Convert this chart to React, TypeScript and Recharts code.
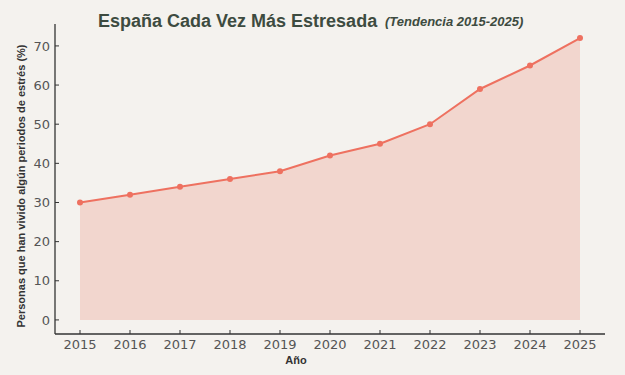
import { ComposedChart, Area, Line, XAxis, YAxis } from "recharts";

const years = [2015, 2016, 2017, 2018, 2019, 2020, 2021, 2022, 2023, 2024, 2025];
const stressPct = [30, 32, 34, 36, 38, 42, 45, 50, 59, 65, 72];
const yTicks = [0, 10, 20, 30, 40, 50, 60, 70];

const data = years.map((year, i) => ({ year, value: stressPct[i] }));

const BG = "#f4f2ee";
const ACCENT = "#ee7160";
const tickStyle = { fill: "#555", fontSize: 13, fontFamily: "DejaVu Sans" };

const YTitle = (props: any) => {
  const vb = props.viewBox || { x: 0, y: 24, height: 310 };
  const cx = vb.x + 21;
  const cy = vb.y + vb.height / 2 + 7;
  return (
    <text
      x={cx}
      y={cy}
      transform={`rotate(-90, ${cx}, ${cy})`}
      textAnchor="middle"
      dominantBaseline="central"
      fontFamily="Liberation Sans"
      fontWeight="bold"
      fontSize={11}
      fill="#333"
    >
      Personas que han vivido algún periodos de estrés (%)
    </text>
  );
};

const XTitle = (props: any) => {
  const vb = props.viewBox || { x: 55, y: 334, width: 550 };
  return (
    <text
      x={296}
      y={vb.y + 26}
      textAnchor="middle"
      dominantBaseline="central"
      fontFamily="Liberation Sans"
      fontWeight="bold"
      fontSize={11}
      fill="#333"
    >
      Año
    </text>
  );
};

export default function App() {
  return (
    <div style={{ position: "absolute", left: 0, top: 0, width: 625, height: 375, background: BG }}>
      <svg width={625} height={40} style={{ position: "absolute", left: 0, top: 0 }}>
        <text x={98} y={27} fontFamily="Liberation Sans" fontWeight="bold" fontSize={18} fill="#3d4b40">
          España Cada Vez Más Estresada
        </text>
        <text
          x={385}
          y={26}
          fontFamily="Liberation Sans"
          fontWeight="bold"
          fontStyle="italic"
          fontSize={13}
          fill="#3d4b40"
        >
          (Tendencia 2015-2025)
        </text>
      </svg>
      <ComposedChart width={625} height={375} data={data} margin={{ top: 24, right: 20, bottom: 11, left: 0 }}>
        <XAxis
          dataKey="year"
          type="number"
          domain={[2014.5, 2025.5]}
          ticks={years}
          tick={tickStyle}
          tickSize={-4}
          tickMargin={10}
          height={30}
          axisLine={{ stroke: "#333", strokeWidth: 1.3 }}
          tickLine={{ stroke: "#333" }}
          label={<XTitle />}
        />
        <YAxis
          type="number"
          domain={[-3.6, 75.6]}
          ticks={yTicks}
          tick={tickStyle}
          tickSize={-4}
          tickMargin={9}
          width={55}
          axisLine={{ stroke: "#333", strokeWidth: 1.3 }}
          tickLine={{ stroke: "#333" }}
          label={<YTitle />}
        />
        <Area
          dataKey="value"
          type="linear"
          baseValue={0}
          stroke="none"
          fill={ACCENT}
          fillOpacity={0.22}
          isAnimationActive={false}
        />
        <Line
          dataKey="value"
          type="linear"
          stroke={ACCENT}
          strokeWidth={2}
          dot={{ r: 3, fill: ACCENT, stroke: ACCENT, strokeWidth: 0 }}
          isAnimationActive={false}
        />
      </ComposedChart>
    </div>
  );
}
